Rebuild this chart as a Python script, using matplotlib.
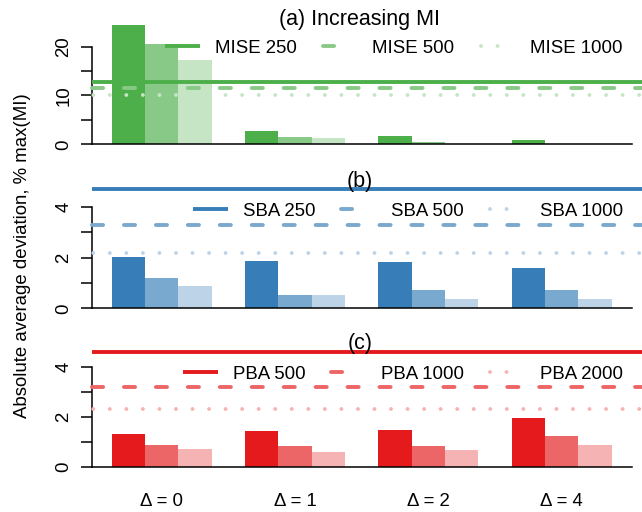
import matplotlib
matplotlib.use("Agg")
import matplotlib.pyplot as plt
from matplotlib.lines import Line2D

plt.rcParams['font.family'] = ['Liberation Sans', 'DejaVu Sans']
plt.rcParams['lines.scale_dashes'] = False

# categories / group labels
groups = ['Δ = 0', 'Δ = 1', 'Δ = 2', 'Δ = 4']

# (a) Increasing MI
mise_labels = ['MISE 250', 'MISE 500', 'MISE 1000']
mise_250 = [24.4, 2.7, 1.7, 0.8]
mise_500 = [20.6, 1.5, 0.5, 0.05]
mise_1000 = [17.2, 1.3, 0.08, 0.05]
mise_ref = [12.75, 11.55, 10.1]

# (b)
sba_labels = ['SBA 250', 'SBA 500', 'SBA 1000']
sba_250 = [2.02, 1.86, 1.82, 1.59]
sba_500 = [1.19, 0.52, 0.72, 0.72]
sba_1000 = [0.88, 0.52, 0.37, 0.37]
sba_ref = [4.68, 3.27, 2.19]

# (c)
pba_labels = ['PBA 500', 'PBA 1000', 'PBA 2000']
pba_500 = [1.31, 1.42, 1.47, 1.95]
pba_1000 = [0.87, 0.83, 0.83, 1.23]
pba_2000 = [0.71, 0.59, 0.67, 0.87]
pba_ref = [4.59, 3.17, 2.31]

greens = ['#4DAF4A', '#88C987', '#C6E5C5']
blues = ['#377EB8', '#79A9CF', '#BDD4E8']
reds = ['#E41A1C', '#ED6667', '#F6B3B4']

W, H = 642, 512
fig = plt.figure(figsize=(W / 100, H / 100), dpi=100)


def px_axes(top, bottom):
    return fig.add_axes([91.7 / W, 1 - bottom / H, 540 / W, (bottom - top) / H])


# line styles for the reference lines, and for the legend keys
LW = 2.8
styles = [dict(linestyle='-', solid_capstyle='butt'),
          dict(linestyle=(0, (8.0, 15.0)), dash_capstyle='round'),
          dict(linestyle=(11, (0.01, 11.9)), dash_capstyle='round')]
key_styles = [dict(linestyle='-', solid_capstyle='butt'),
              dict(linestyle=(0, (8.0, 60)), dash_capstyle='round'),
              dict(linestyle=(0, (0.01, 11.9, 0.01, 60)), dash_capstyle='round')]


def panel(ax, series, refs, labels, colors, ylim, ymax, step, title, title_y, leg_y):
    for k, vals in enumerate(series):
        xs = [4 * g + k for g in range(len(vals))]
        ax.bar(xs, vals, width=1, align='edge', color=colors[k], linewidth=0, zorder=2)
    ax.plot([-0.6, 15.6], [0, 0], color='black', lw=1.1, clip_on=False, zorder=3)
    handles = []
    for k, v in enumerate(refs):
        ax.plot([-0.6, 16.5], [v, v], color=colors[k], lw=LW, clip_on=False, zorder=4, **styles[k])
        handles.append(Line2D([], [], color=colors[k], lw=LW, **key_styles[k]))
    ax.set_xlim(-0.6, 15.6)
    ax.set_ylim(*ylim)
    for s in ['top', 'right', 'bottom']:
        ax.spines[s].set_visible(False)
    ax.spines['left'].set_bounds(0, ymax)
    ax.spines['left'].set_linewidth(1.1)
    ax.set_yticks([0, ymax / 2, ymax])
    ax.set_yticklabels([f'{int(t)}' for t in [0, ymax / 2, ymax]], rotation=90, va='center')
    ax.set_yticks([step, ymax - step], minor=True)
    ax.tick_params(axis='y', which='both', length=8, width=1.1, labelsize=13.4, pad=6)
    ax.set_xticks([])
    fig.text(360 / W, 1 - title_y / H, title, ha='center', va='center', fontsize=15.5)
    fig.legend(handles, labels, ncol=3, loc='center right',
               bbox_to_anchor=(623 / W, 1 - leg_y / H), bbox_transform=fig.transFigure,
               frameon=False, fontsize=13.4, handlelength=1.88, handletextpad=0.8,
               columnspacing=1.4, borderpad=0, borderaxespad=0)


ax_a = px_axes(20, 150)
panel(ax_a, [mise_250, mise_500, mise_1000], mise_ref, mise_labels, greens,
      ((144.3 - 150) / 4.89, (144.3 - 20) / 4.89), 20, 5, '(a) Increasing MI', 19, 48)

ax_b = px_axes(182, 312)
panel(ax_b, [sba_250, sba_500, sba_1000], sba_ref, sba_labels, blues,
      ((308.3 - 312) / 25.4, (308.3 - 182) / 25.4), 4, 1, '(b)', 181, 211)

ax_c = px_axes(340, 470)
panel(ax_c, [pba_500, pba_1000, pba_2000], pba_ref, pba_labels, reds,
      ((466.7 - 470) / 25.0, (466.7 - 340) / 25.0), 4, 1, '(c)', 343, 374)

for g, lab in enumerate(groups):
    ax_c.text(4 * g + 1.5, -1.38, lab, ha='center', va='center', fontsize=13.4)

fig.text(22.5 / W, 0.5, 'Absolute average deviation, % max(MI)', rotation=90,
         ha='center', va='center', fontsize=13.4)

fig.savefig('out.png', dpi=100)
